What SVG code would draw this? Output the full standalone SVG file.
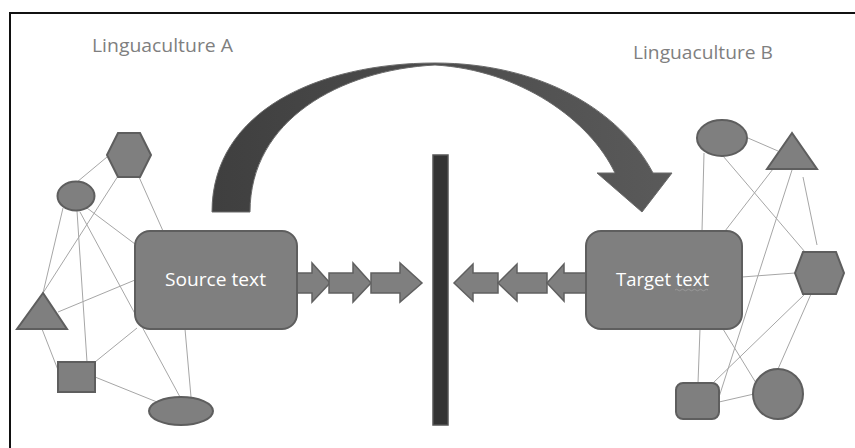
<svg xmlns="http://www.w3.org/2000/svg" width="855" height="448" viewBox="0 0 855 448">
<defs>
<style>
.shape{fill:#7f7f7f;stroke:#5e5e5e;stroke-width:2}
.link{stroke:#a6a6a6;stroke-width:1;fill:none}
.label{font-family:"Open Sans","Liberation Sans",sans-serif;font-size:18px;fill:#7f7f7f}
.boxlabel{font-family:"Open Sans","Liberation Sans",sans-serif;font-size:18px;fill:#ffffff}
.blk{fill:#7f7f7f;stroke:#606060;stroke-width:1.5;stroke-linejoin:miter}
</style>
<linearGradient id="arcg" x1="0" y1="0" x2="1" y2="0">
<stop offset="0" stop-color="#3f3f3f"/>
<stop offset="1" stop-color="#5a5a5a"/>
</linearGradient>
</defs>
<rect x="0" y="0" width="855" height="448" fill="#ffffff"/>
<path d="M10,448 L10,13 L855,13" fill="none" stroke="#111" stroke-width="2"/>

<text class="label" x="92" y="52" textLength="141" lengthAdjust="spacingAndGlyphs">Linguaculture A</text>
<text class="label" x="633" y="59" textLength="140" lengthAdjust="spacingAndGlyphs">Linguaculture B</text>

<g id="connectors">
<line class="link" x1="107" y1="157" x2="77" y2="182"/>
<line class="link" x1="118" y1="176" x2="43" y2="293"/>
<line class="link" x1="139" y1="177" x2="163" y2="231"/>
<line class="link" x1="63" y1="208" x2="43" y2="293"/>
<line class="link" x1="87" y1="208" x2="135" y2="244"/>
<line class="link" x1="77" y1="211" x2="87" y2="362"/>
<line class="link" x1="80" y1="212" x2="180" y2="397"/>
<line class="link" x1="58" y1="312" x2="135" y2="280"/>
<line class="link" x1="42" y1="329" x2="58" y2="370"/>
<line class="link" x1="95" y1="362" x2="137" y2="328"/>
<line class="link" x1="95" y1="377" x2="157" y2="402"/>
<line class="link" x1="185" y1="329" x2="191" y2="397"/>

<line class="link" x1="704" y1="153" x2="702" y2="231"/>
<line class="link" x1="748" y1="138" x2="778" y2="151"/>
<line class="link" x1="723" y1="156" x2="805" y2="252"/>
<line class="link" x1="773" y1="169" x2="725" y2="231"/>
<line class="link" x1="792" y1="170" x2="719" y2="397"/>
<line class="link" x1="803" y1="177" x2="817" y2="245"/>
<line class="link" x1="742" y1="277" x2="795" y2="273"/>
<line class="link" x1="805" y1="294" x2="713" y2="383"/>
<line class="link" x1="811" y1="294" x2="778" y2="369"/>
<line class="link" x1="700" y1="329" x2="698" y2="383"/>
<line class="link" x1="723" y1="329" x2="756" y2="383"/>
<line class="link" x1="719" y1="402" x2="754" y2="394"/>
</g>

<g id="curved-arrow">
<path d="M212,212 C212,110 320,63 435,63 C540,63 620,110 653,173 L672,173 L642,212 L597,173 L615,173 C590,120 520,70 435,65 C340,70 250,120 250,212 Z" fill="url(#arcg)" stroke="#6a6a6a" stroke-width="1"/>
</g>

<g id="barrier">
<rect x="433" y="155" width="15" height="270" fill="#333333" stroke="#555555" stroke-width="1.5"/>
</g>

<g id="arrows-right">
<path class="blk" d="M297,273 L312,273 L312,263 L330,283 L312,302 L312,293 L297,293 Z"/>
<path class="blk" d="M329,273 L353,273 L353,263 L371,283 L353,302 L353,293 L329,293 Z"/>
<path class="blk" d="M371,273 L400,273 L400,263 L422,283 L400,302 L400,293 L371,293 Z"/>
</g>
<g id="arrows-left">
<path class="blk" d="M498,273 L473,273 L473,264 L454,283 L473,301 L473,293 L498,293 Z"/>
<path class="blk" d="M547,273 L517,273 L517,264 L498,283 L517,301 L517,293 L547,293 Z"/>
<path class="blk" d="M587,273 L564,273 L564,264 L547,283 L564,301 L564,293 L587,293 Z"/>
</g>

<g id="hexagon-a"><polygon class="shape" points="107,155 118,133 140,133 151,155 140,177 118,177"/></g>
<g id="ellipse-a"><ellipse class="shape" cx="76" cy="196" rx="18.5" ry="14.5"/></g>
<g id="triangle-a"><polygon class="shape" points="43,293 17,329 67,329"/></g>
<g id="square-a"><rect class="shape" x="58" y="362" width="37" height="30"/></g>
<g id="ellipse-a2"><ellipse class="shape" cx="181" cy="411" rx="32" ry="14"/></g>
<g id="source-text">
<rect class="shape" x="135" y="231" width="162" height="98" rx="15" ry="15"/>
<text class="boxlabel" x="165" y="286" textLength="101" lengthAdjust="spacingAndGlyphs">Source text</text>
</g>

<g id="ellipse-b"><ellipse class="shape" cx="722" cy="138" rx="25" ry="18"/></g>
<g id="triangle-b"><polygon class="shape" points="792,133 767,169 817,169"/></g>
<g id="hexagon-b"><polygon class="shape" points="795,273 803,252 836,252 844,273 836,294 803,294"/></g>
<g id="circle-b"><circle class="shape" cx="778" cy="394" r="25"/></g>
<g id="square-b"><rect class="shape" x="676" y="383" width="43" height="36" rx="7" ry="7"/></g>
<g id="target-text">
<rect class="shape" x="586" y="231" width="156" height="98" rx="15" ry="15"/>
<text class="boxlabel" x="616" y="286" textLength="93" lengthAdjust="spacingAndGlyphs">Target text</text>
<path d="M675,290 q1.5,-1.5 3,0 t3,0 t3,0 t3,0 t3,0 t3,0 t3,0 t3,0 t3,0 t3,0 t3,0" fill="none" stroke="#a0a0a0" stroke-width="0.8"/>
</g>
</svg>
